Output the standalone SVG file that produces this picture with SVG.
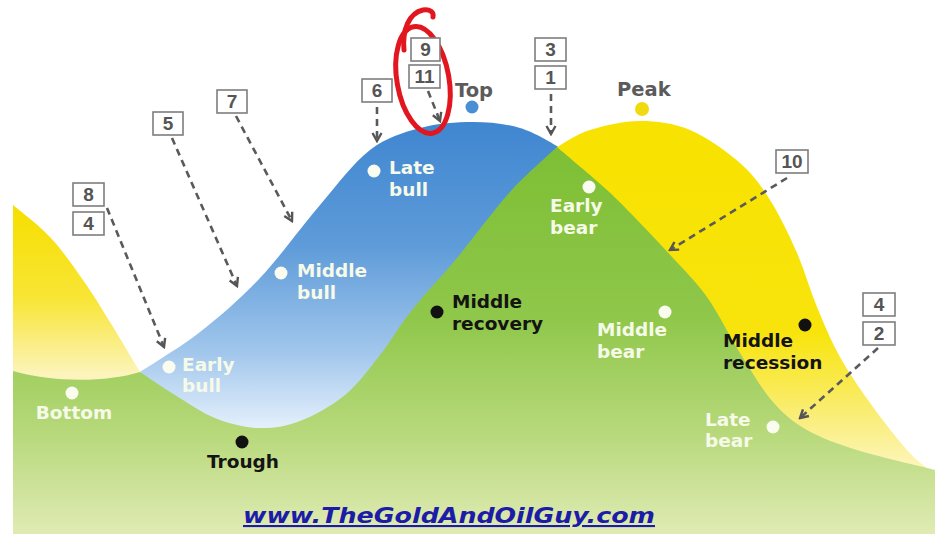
<svg xmlns="http://www.w3.org/2000/svg" width="935" height="534" viewBox="0 0 935 534">
<defs>
<linearGradient id="gGreen" gradientUnits="userSpaceOnUse" x1="0" y1="140" x2="0" y2="534">
<stop offset="0" stop-color="#7dbe34"/><stop offset="0.45" stop-color="#8fc74a"/><stop offset="0.75" stop-color="#b8d97c"/><stop offset="1" stop-color="#e0ebb4"/>
</linearGradient>
<linearGradient id="gBlue" gradientUnits="userSpaceOnUse" x1="0" y1="122" x2="0" y2="430">
<stop offset="0" stop-color="#3f86d0"/><stop offset="0.4" stop-color="#5e9bd9"/><stop offset="0.75" stop-color="#a2c7ec"/><stop offset="1" stop-color="#e6f1fc"/>
</linearGradient>
<linearGradient id="gYelR" gradientUnits="userSpaceOnUse" x1="0" y1="120" x2="0" y2="475">
<stop offset="0" stop-color="#f7e200"/><stop offset="0.6" stop-color="#f8e40c"/><stop offset="0.85" stop-color="#faee80"/><stop offset="1" stop-color="#fdf7c4"/>
</linearGradient>
<linearGradient id="gYelL" gradientUnits="userSpaceOnUse" x1="0" y1="205" x2="0" y2="375">
<stop offset="0" stop-color="#f6df00"/><stop offset="0.55" stop-color="#f8e535"/><stop offset="1" stop-color="#fcf4bc"/>
</linearGradient>
<marker id="ah" viewBox="0 0 12 12" refX="10" refY="6" markerWidth="12" markerHeight="12" markerUnits="userSpaceOnUse" orient="auto">
<path d="M2,1.5 L10,6 L2,10.5" fill="none" stroke="#555" stroke-width="2.4"/>
</marker>
<style>
.lw{fill:#f6fae8;font-family:"DejaVu Sans",sans-serif;font-weight:bold;font-size:18.5px}
.lb{fill:#141414;font-family:"DejaVu Sans",sans-serif;font-weight:bold;font-size:18.5px}
.lg{fill:#5b5b5b;font-family:"DejaVu Sans",sans-serif;font-weight:bold;font-size:19.5px}
.bx rect{fill:#ffffff;stroke:#7e7e7e;stroke-width:1.6}
.bx text{fill:#555;font-family:"Liberation Sans",Arial,sans-serif;font-weight:bold;font-size:19px;text-anchor:middle}
.ar{fill:none;stroke:#5a5a5a;stroke-width:2.6;stroke-dasharray:7 5;marker-end:url(#ah)}
.dw{fill:#fafcf0}
.dk{fill:#111}
</style>
</defs>
<rect width="935" height="534" fill="#ffffff"/>
<g id="waves">
<path id="yellow-left" fill="url(#gYelL)" d="M13,205 C19.2,210.3 38.3,224.5 50,237 C61.7,249.5 73,265.8 83,280 C93,294.2 100.5,306.7 110,322 C119.5,337.3 135,363.7 140,372 L140,440 L13,440 Z"/>
<path id="blue-wave" fill="url(#gBlue)" d="M140,372 C150,365.3 180,347.7 200,332 C220,316.3 240,299.2 260,278 C280,256.8 301.7,226.3 320,205 C338.3,183.7 353.3,162.8 370,150 C386.7,137.2 402.8,132.7 420,128 C437.2,123.3 456.3,122 473,122 C489.7,122 505.5,123.8 520,128 C534.5,132.2 553.3,143.8 560,148 L560,440 L140,440 Z"/>
<path id="yellow-right" fill="url(#gYelR)" d="M557,147 C562.5,144.2 576.2,134.3 590,130 C603.8,125.7 623.3,121 640,121 C656.7,121 673.3,123 690,130 C706.7,137 726.7,151.3 740,163 C753.3,174.7 760.5,185 770,200 C779.5,215 789.2,235.2 797,253 C804.8,270.8 809.8,289.7 817,307 C824.2,324.3 830.7,340.3 840,357 C849.3,373.7 861.8,391.5 873,407 C884.2,422.5 898,439.8 907,450 C916,460.2 923.7,465 927,468 L935,474 L935,534 L557,534 Z"/>
<path id="green-wave" fill="url(#gGreen)" d="M13,371 C50,382 105,383 140,372 C145.8,375.8 162.5,387.3 175,395 C187.5,402.7 201.2,412.5 215,418 C228.8,423.5 243.8,427.5 258,428 C272.2,428.5 285.5,426.5 300,421 C314.5,415.5 331.7,406 345,395 C358.3,384 368.8,369.2 380,355 C391.2,340.8 399.2,326.2 412,310 C424.8,293.8 440.7,277.7 457,258 C473.3,238.3 493.3,210.5 510,192 C526.7,173.5 549.2,154.5 557,147 C565.3,154.2 593.2,177.3 607,190 C620.8,202.7 629,211.7 640,223 C651,234.3 661.8,245.7 673,258 C684.2,270.3 695.8,281.2 707,297 C718.2,312.8 729,335.5 740,353 C751,370.5 761.8,389.2 773,402 C784.2,414.8 793,422 807,430 C821,438 837,443.7 857,450 C877,456.3 915.3,465 927,468 L935,470 L935,534 L13,534 Z"/>
</g>
<g id="red-loop" fill="none" stroke="#e2161f" stroke-width="5" stroke-linecap="round">
<ellipse cx="423" cy="80" rx="26" ry="54" transform="rotate(-10 423 80)"/>
<path d="M404,50 C402,30 409,13 423,10 C430,9 434,12 433,17"/>
</g>
<g id="connectors">
<path class="ar" d="M428,91 L440,121"/>
<path class="ar" d="M377,107 L377,141"/>
<path class="ar" d="M551,94 L551,134"/>
<path class="ar" d="M236,116 L292,221"/>
<path class="ar" d="M172,138 L237,286"/>
<path class="ar" d="M107,208 L164,347"/>
<path class="ar" d="M787,178 L670,250"/>
<path class="ar" d="M878,348 L800,418"/>
</g>
<g id="n-top"><circle cx="472" cy="107" r="6.5" fill="#4a8fd4"/><text class="lg" x="455" y="97">Top</text></g>
<g id="n-peak"><circle cx="642" cy="109" r="7" fill="#f0db10"/><text class="lg" x="617" y="96">Peak</text></g>
<g id="n-late-bull"><circle class="dw" cx="374" cy="171" r="6.5"/><text class="lw" x="389" y="174">Late</text><text class="lw" x="389" y="196">bull</text></g>
<g id="n-middle-bull"><circle class="dw" cx="281" cy="273" r="6.5"/><text class="lw" x="297" y="277">Middle</text><text class="lw" x="297" y="299">bull</text></g>
<g id="n-early-bull"><circle class="dw" cx="169" cy="367" r="6.5"/><text class="lw" x="182" y="371">Early</text><text class="lw" x="182" y="392">bull</text></g>
<g id="n-bottom"><circle class="dw" cx="72" cy="393" r="6.5"/><text class="lw" x="74" y="419" text-anchor="middle">Bottom</text></g>
<g id="n-trough"><circle class="dk" cx="242" cy="442" r="6.5"/><text class="lb" x="243" y="468" text-anchor="middle">Trough</text></g>
<g id="n-middle-recovery"><circle class="dk" cx="437" cy="312" r="6.5"/><text class="lb" x="452" y="308">Middle</text><text class="lb" x="452" y="330">recovery</text></g>
<g id="n-early-bear"><circle class="dw" cx="589" cy="187" r="6.5"/><text class="lw" x="550" y="212">Early</text><text class="lw" x="550" y="234">bear</text></g>
<g id="n-middle-bear"><circle class="dw" cx="665" cy="312" r="6.5"/><text class="lw" x="597" y="336">Middle</text><text class="lw" x="597" y="358">bear</text></g>
<g id="n-middle-recession"><circle class="dk" cx="805" cy="325" r="6.5"/><text class="lb" x="723" y="347">Middle</text><text class="lb" x="723" y="369">recession</text></g>
<g id="n-late-bear"><circle class="dw" cx="773" cy="427" r="6.5"/><text class="lw" x="705" y="426">Late</text><text class="lw" x="705" y="447">bear</text></g>
<g id="box-9" class="bx"><rect x="411" y="38" width="29" height="23"/><text x="425.5" y="56">9</text></g>
<g id="box-11" class="bx"><rect x="409" y="65" width="31" height="23"/><text x="424.5" y="83">11</text></g>
<g id="box-6" class="bx"><rect x="362" y="79" width="30" height="23"/><text x="377" y="97">6</text></g>
<g id="box-3" class="bx"><rect x="535" y="38" width="31" height="23"/><text x="550.5" y="56">3</text></g>
<g id="box-1" class="bx"><rect x="535" y="66" width="31" height="23"/><text x="550.5" y="84">1</text></g>
<g id="box-7" class="bx"><rect x="217" y="90" width="30" height="23"/><text x="232" y="108">7</text></g>
<g id="box-5" class="bx"><rect x="153" y="112" width="30" height="23"/><text x="168" y="130">5</text></g>
<g id="box-8" class="bx"><rect x="73" y="183" width="31" height="23"/><text x="88.5" y="201">8</text></g>
<g id="box-4a" class="bx"><rect x="73" y="212" width="31" height="23"/><text x="88.5" y="230">4</text></g>
<g id="box-10" class="bx"><rect x="776" y="150" width="32" height="23"/><text x="792" y="168">10</text></g>
<g id="box-4b" class="bx"><rect x="863" y="293" width="32" height="23"/><text x="879" y="311">4</text></g>
<g id="box-2" class="bx"><rect x="863" y="322" width="32" height="23"/><text x="879" y="340">2</text></g>
<text id="site" x="243" y="523" textLength="412" lengthAdjust="spacingAndGlyphs" fill="#1c1ca8" font-family="'DejaVu Sans',Verdana,sans-serif" font-weight="bold" font-style="italic" font-size="21" text-decoration="underline">www.TheGoldAndOilGuy.com</text>
</svg>
